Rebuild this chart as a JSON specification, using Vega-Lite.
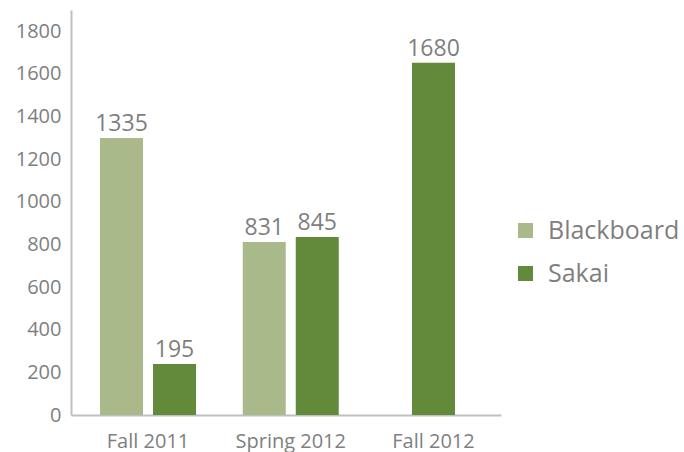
{
  "$schema": "https://vega.github.io/schema/vega-lite/v6.json",
  "width": 430,
  "height": 405,
  "autosize": "none",
  "padding": {"left": 71, "top": 10, "right": 183, "bottom": 37},
  "background": "white",
  "config": {
    "view": {"stroke": null},
    "font": "Open Sans",
    "axis": {"labelFont": "Open Sans", "labelColor": "#7f7f7f", "domainColor": "#bfbfbf", "domainWidth": 2, "ticks": false, "grid": false, "title": null},
    "legend": {"labelFont": "Open Sans"}
  },
  "data": {
    "values": [
      {"term": "Fall 2011", "series": "Blackboard", "value": 1300, "label": "1335"},
      {"term": "Fall 2011", "series": "Sakai", "value": 239, "label": "195"},
      {"term": "Spring 2012", "series": "Blackboard", "value": 812, "label": "831"},
      {"term": "Spring 2012", "series": "Sakai", "value": 835, "label": "845"},
      {"term": "Fall 2012", "series": "Sakai", "value": 1652, "label": "1680"}
    ]
  },
  "encoding": {
    "x": {
      "field": "term", "type": "nominal",
      "sort": ["Fall 2011", "Spring 2012", "Fall 2012"],
      "scale": {"paddingInner": 0.3275, "paddingOuter": 0.17, "align": 0.598},
      "axis": {"labelAngle": 0, "labelFontSize": 20, "labelPadding": 16}
    },
    "y": {
      "field": "value", "type": "quantitative",
      "scale": {"domain": [0, 1900], "nice": false},
      "axis": {"values": [0, 200, 400, 600, 800, 1000, 1200, 1400, 1600, 1800], "format": "d", "labelFontSize": 20, "labelPadding": 10}
    }
  },
  "layer": [
    {
      "transform": [{"filter": "datum.term !== 'Fall 2012'"}],
      "layer": [
        {
          "mark": {"type": "bar"},
          "encoding": {
            "xOffset": {"field": "series", "type": "nominal", "scale": {"paddingInner": 0.189, "paddingOuter": 0}},
            "color": {
              "field": "series", "type": "nominal",
              "scale": {"domain": ["Blackboard", "Sakai"], "range": ["#a9b98a", "#628a3a"]},
              "legend": {"title": null, "orient": "none", "legendX": 442, "legendY": 208, "symbolType": "square", "symbolSize": 225, "symbolStrokeWidth": 0, "labelFontSize": 25, "labelColor": "#7f7f7f", "labelOffset": 10, "rowPadding": 17, "padding": 0}
            }
          }
        },
        {
          "mark": {"type": "text", "baseline": "alphabetic", "dy": -7, "fontSize": 23, "color": "#7f7f7f", "font": "Open Sans"},
          "encoding": {
            "xOffset": {"field": "series", "type": "nominal"},
            "text": {"field": "label"}
          }
        }
      ]
    },
    {
      "transform": [{"filter": "datum.term === 'Fall 2012'"}],
      "layer": [
        {
          "mark": {"type": "bar", "width": {"band": 0.448}},
          "encoding": {
            "color": {"field": "series", "type": "nominal"}
          }
        },
        {
          "mark": {"type": "text", "baseline": "alphabetic", "dy": -7, "fontSize": 23, "color": "#7f7f7f", "font": "Open Sans"},
          "encoding": {"text": {"field": "label"}}
        }
      ]
    }
  ]
}
